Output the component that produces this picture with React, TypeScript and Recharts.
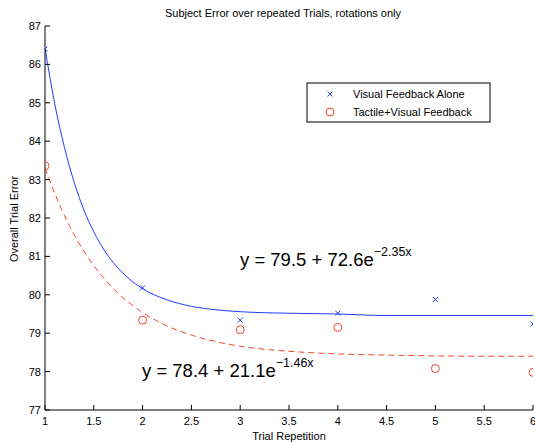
import React from "react";
import {
  ComposedChart,
  Line,
  Scatter,
  XAxis,
  YAxis,
  Customized,
} from "recharts";

const trials = [1, 2, 3, 4, 5, 6];
const visualAlone = [86.4, 80.18, 79.34, 79.52, 79.88, 79.24];
const tactileVisual = [83.36, 79.34, 79.09, 79.15, 78.08, 77.98];

// fitted curves
const fitX = [1, 1.1, 1.2, 1.3, 1.4, 1.5, 1.6, 1.8, 2, 2.25, 2.5, 2.75, 3, 3.5, 4, 4.5, 5, 5.5, 6];
const visualFit = [86.42, 84.97, 83.83, 82.92, 82.2, 81.64, 81.19, 80.56, 80.16, 79.87, 79.7, 79.61, 79.56, 79.52, 79.5, 79.46, 79.46, 79.46, 79.46];
const tactileFit = [83.3, 82.64, 82.06, 81.56, 81.13, 80.76, 80.44, 79.92, 79.54, 79.19, 78.95, 78.78, 78.66, 78.53, 78.46, 78.43, 78.41, 78.4, 78.4];

const xTicks = [1, 1.5, 2, 2.5, 3, 3.5, 4, 4.5, 5, 5.5, 6];
const yTicks = [77, 78, 79, 80, 81, 82, 83, 84, 85, 86, 87];

const BLUE = "#1f3dff";
const RED = "#f2462c";
const FONT = "'Liberation Sans', Arial, sans-serif";

const visualPts = trials.map((x, i) => ({ x, y: visualAlone[i] }));
const tactilePts = trials.map((x, i) => ({ x, y: tactileVisual[i] }));
const visualCurve = fitX.map((x, i) => ({ x, y: visualFit[i] }));
const tactileCurve = fitX.map((x, i) => ({ x, y: tactileFit[i] }));

const Cross = (props: any) => {
  const { cx, cy } = props;
  const s = 2.5;
  return (
    <g stroke={BLUE} strokeWidth={1}>
      <line x1={cx - s} y1={cy - s} x2={cx + s} y2={cy + s} />
      <line x1={cx - s} y1={cy + s} x2={cx + s} y2={cy - s} />
    </g>
  );
};

const Ring = (props: any) => {
  const { cx, cy } = props;
  return <circle cx={cx} cy={cy} r={4} fill="none" stroke={RED} strokeWidth={1} />;
};

const XTick = (props: any) => {
  const { x, y, payload } = props;
  return (
    <g>
      <line x1={x} x2={x} y1={y} y2={y - 5} stroke="#000" />
      <text x={x} y={y + 15} textAnchor="middle" fontSize={11} fontFamily={FONT} fill="#000">
        {payload.value}
      </text>
    </g>
  );
};

const YTick = (props: any) => {
  const { x, y, payload } = props;
  return (
    <g>
      <line x1={x} x2={x + 5} y1={y} y2={y} stroke="#000" />
      <text x={x - 4} y={y + 4} textAnchor="end" fontSize={11} fontFamily={FONT} fill="#000">
        {payload.value}
      </text>
    </g>
  );
};

const Overlay = () => (
  <g fontFamily={FONT} fill="#000">
    <text x={283} y={17} textAnchor="middle" fontSize={11}>
      Subject Error over repeated Trials, rotations only
    </text>
    <text x={289} y={440} textAnchor="middle" fontSize={11}>
      Trial Repetition
    </text>
    <text x={18} y={219} textAnchor="middle" fontSize={11} transform="rotate(-90 18 219)">
      Overall Trial Error
    </text>

    <rect x={307} y={83} width={183} height={39} fill="#fff" stroke="#000" strokeWidth={1} />
    <Cross cx={330} cy={94} />
    <text x={353} y={98} fontSize={11}>Visual Feedback Alone</text>
    <Ring cx={330} cy={112} />
    <text x={353} y={116} fontSize={11}>Tactile+Visual Feedback</text>

    <text x={240} y={266} fontSize={18.5}>
      y = 79.5 + 72.6e
      <tspan dy={-10} fontSize={12.5}>−2.35x</tspan>
    </text>
    <text x={142} y={377} fontSize={18.5}>
      y = 78.4 + 21.1e
      <tspan dy={-10} fontSize={12.5}>−1.46x</tspan>
    </text>
  </g>
);

export default function App() {
  return (
    <div style={{ position: "absolute", left: 0, top: 0, width: 535, height: 445, background: "#fff" }}>
      <ComposedChart
        width={535}
        height={445}
        margin={{ top: 26, right: 2, bottom: 0, left: 0 }}
        style={{ fontFamily: FONT }}
      >
        <XAxis
          type="number"
          dataKey="x"
          domain={[1, 6]}
          ticks={xTicks}
          interval={0}
          allowDataOverflow
          height={35}
          tickSize={0}
          tickMargin={0}
          tick={<XTick />}
          axisLine={{ stroke: "#000" }}
        />
        <YAxis
          type="number"
          dataKey="y"
          domain={[77, 87]}
          ticks={yTicks}
          interval={0}
          allowDataOverflow
          width={45}
          tickSize={0}
          tickMargin={0}
          tick={<YTick />}
          axisLine={{ stroke: "#000" }}
        />
        <Line
          data={visualCurve}
          dataKey="y"
          type="monotone"
          stroke={BLUE}
          strokeWidth={1}
          dot={false}
          activeDot={false}
          isAnimationActive={false}
        />
        <Line
          data={tactileCurve}
          dataKey="y"
          type="monotone"
          stroke={RED}
          strokeWidth={1}
          strokeDasharray="6 4"
          dot={false}
          activeDot={false}
          isAnimationActive={false}
        />
        <Scatter data={visualPts} dataKey="y" shape={<Cross />} isAnimationActive={false} />
        <Scatter data={tactilePts} dataKey="y" shape={<Ring />} isAnimationActive={false} />
        <Customized component={<Overlay />} />
      </ComposedChart>
    </div>
  );
}
